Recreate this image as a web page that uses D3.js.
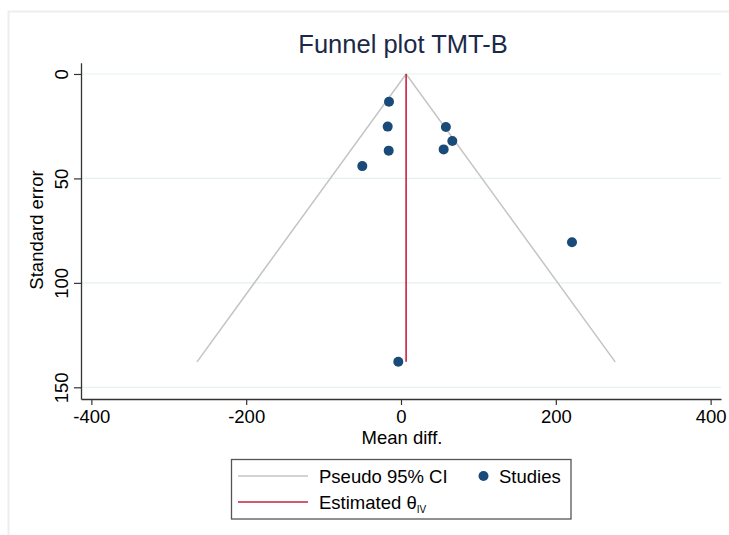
<!DOCTYPE html>
<html>
<head>
<meta charset="utf-8">
<script src="https://cdn.jsdelivr.net/npm/d3@7"></script>
<style>
  html, body { margin: 0; padding: 0; background: #fff; }
  svg { display: block; font-family: "Liberation Sans", Arial, Helvetica, sans-serif; }
</style>
</head>
<body>
<svg id="chart" width="729" height="535"></svg>
<script>
// Study-level results: mean difference and its standard error
const meanDiff = [-15.5, -17.2, -15.9, -50.0, 58.0, 66.3, 55.1, 220.9, -3.5];
const stdErr   = [13.3, 25.2, 36.7, 44.1, 25.4, 32.1, 36.1, 80.6, 137.8];

// Pooled inverse-variance estimate
const thetaIV = 6.6;

// Axis ticks
const xTicks = [-400, -200, 0, 200, 400];
const yTicks = [0, 50, 100, 150];

const svg = d3.select("#chart");

// Outer graph-region frame
svg.append("path")
  .attr("d", "M8.5,535 V11.5 H729")
  .attr("fill", "none")
  .attr("stroke", "#eceff0")
  .attr("stroke-width", 2);

const plot = { left: 81, right: 721, top: 62.7, bottom: 399 };

const x = d3.scaleLinear().domain([-413.4, 413.4]).range([plot.left, plot.right]);
const y = d3.scaleLinear().domain([-5.4, 155.6]).range([plot.top, plot.bottom]);

// Horizontal grid lines
svg.append("g")
  .selectAll("line")
  .data(yTicks)
  .join("line")
  .attr("x1", plot.left).attr("x2", plot.right)
  .attr("y1", d => y(d)).attr("y2", d => y(d))
  .attr("stroke", "#e6eff1")
  .attr("stroke-width", 1.2);

// Pseudo 95% confidence limits
const seMax = d3.max(stdErr);
const funnel = [
  [thetaIV - 1.96 * seMax, seMax],
  [thetaIV, 0],
  [thetaIV + 1.96 * seMax, seMax]
];
svg.append("path")
  .attr("d", d3.line().x(d => x(d[0])).y(d => y(d[1]))(funnel))
  .attr("fill", "none")
  .attr("stroke", "#c4c4c4")
  .attr("stroke-width", 1.5);

// Estimated effect line
svg.append("line")
  .attr("x1", x(thetaIV)).attr("x2", x(thetaIV))
  .attr("y1", y(0)).attr("y2", y(seMax))
  .attr("stroke", "#c8203f")
  .attr("stroke-width", 1.6);

// Studies
svg.append("g")
  .selectAll("circle")
  .data(meanDiff.map((m, i) => ({ m, se: stdErr[i] })))
  .join("circle")
  .attr("cx", d => x(d.m))
  .attr("cy", d => y(d.se))
  .attr("r", 5)
  .attr("fill", "#1a4a78");

// X axis
const xAxis = svg.append("g")
  .attr("transform", `translate(0,${plot.bottom})`)
  .call(d3.axisBottom(x).tickValues(xTicks).tickSize(6).tickPadding(5).tickSizeOuter(0)
    .tickFormat(d3.format("d")));
xAxis.select(".domain").attr("stroke", "#333").attr("stroke-width", 1.3);
xAxis.selectAll(".tick line").attr("stroke", "#333").attr("stroke-width", 1.2);
xAxis.selectAll(".tick text")
  .attr("font-size", 18.5).attr("fill", "#000")
  .attr("font-family", "Liberation Sans, Arial, sans-serif")
  .text(d => d < 0 ? "-" + Math.abs(d) : d);

// Y axis
const yAxis = svg.append("g")
  .attr("transform", `translate(${plot.left},0)`)
  .call(d3.axisLeft(y).tickValues(yTicks).tickSize(7).tickSizeOuter(0).tickFormat(d3.format("d")));
yAxis.select(".domain").attr("stroke", "#333").attr("stroke-width", 1.3);
yAxis.selectAll(".tick line").attr("stroke", "#333").attr("stroke-width", 1.2);
yAxis.selectAll(".tick text")
  .attr("font-size", 18.5).attr("fill", "#000")
  .attr("font-family", "Liberation Sans, Arial, sans-serif")
  .attr("x", null).attr("dy", null)
  .attr("text-anchor", "middle")
  .attr("transform", "translate(-13,0) rotate(-90)")
  .attr("y", 0);

// Title
svg.append("text")
  .attr("x", 403).attr("y", 53)
  .attr("text-anchor", "middle")
  .attr("font-size", 25.5)
  .attr("fill", "#1a2948")
  .text("Funnel plot TMT-B");

// Axis titles
svg.append("text")
  .attr("x", 402).attr("y", 444)
  .attr("text-anchor", "middle")
  .attr("font-size", 18.5)
  .attr("fill", "#000")
  .text("Mean diff.");

svg.append("text")
  .attr("transform", "translate(43,230) rotate(-90)")
  .attr("text-anchor", "middle")
  .attr("font-size", 18.5)
  .attr("fill", "#000")
  .text("Standard error");

// Legend
const lg = svg.append("g");
lg.append("rect")
  .attr("x", 231.5).attr("y", 459.5)
  .attr("width", 339.5).attr("height", 59.5)
  .attr("fill", "#fff")
  .attr("stroke", "#555")
  .attr("stroke-width", 1.3);

lg.append("line")
  .attr("x1", 238).attr("x2", 308).attr("y1", 476).attr("y2", 476)
  .attr("stroke", "#c4c4c4").attr("stroke-width", 1.5);
lg.append("text")
  .attr("x", 319).attr("y", 482.5)
  .attr("font-size", 18.5).attr("fill", "#000")
  .text("Pseudo 95% CI");

lg.append("circle")
  .attr("cx", 483.5).attr("cy", 476).attr("r", 5)
  .attr("fill", "#1a4a78");
lg.append("text")
  .attr("x", 499).attr("y", 482.5)
  .attr("font-size", 18.5).attr("fill", "#000")
  .text("Studies");

lg.append("line")
  .attr("x1", 238).attr("x2", 308).attr("y1", 502).attr("y2", 502)
  .attr("stroke", "#c8203f").attr("stroke-width", 1.6);
const est = lg.append("text")
  .attr("x", 319).attr("y", 508.5)
  .attr("font-size", 18.5).attr("fill", "#000");
est.append("tspan").text("Estimated θ");
est.append("tspan").attr("font-size", 10).attr("dy", 4).text("IV");
</script>
</body>
</html>
